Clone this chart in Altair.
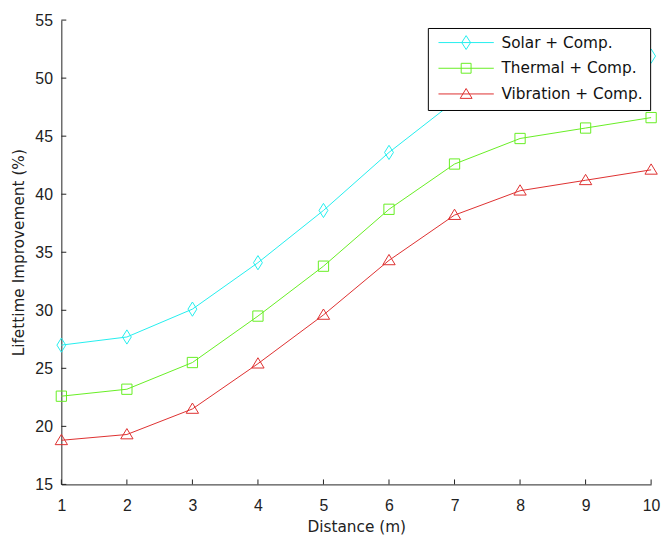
import altair as alt
import pandas as pd

distance = [1, 2, 3, 4, 5, 6, 7, 8, 9, 10]
solar = [27.0, 27.7, 30.1, 34.1, 38.6, 43.6, 48.0, 49.8, 50.9, 51.9]
thermal = [22.6, 23.2, 25.5, 29.5, 33.8, 38.7, 42.6, 44.8, 45.7, 46.6]
vibration = [18.8, 19.3, 21.5, 25.4, 29.6, 34.3, 38.2, 40.3, 41.2, 42.1]

series_names = ["Solar + Comp.", "Thermal + Comp.", "Vibration + Comp."]
series_colors = ["#22EEEE", "#66EE22", "#DD2E2E"]

x_ticks = [1, 2, 3, 4, 5, 6, 7, 8, 9, 10]
y_ticks = [15, 20, 25, 30, 35, 40, 45, 50, 55]

W, H = 597, 470

rows = []
for name, vals in zip(series_names, [solar, thermal, vibration]):
    for d, v in zip(distance, vals):
        rows.append({"distance": d, "value": v, "series": name})
df = pd.DataFrame(rows)

# marker paths (unit coords, scaled by sqrt(size)/2)
marker_paths = {
    "Solar + Comp.": "M0,-0.9L0.56,0L0,0.9L-0.56,0Z",
    "Thermal + Comp.": "M-0.65,-0.65L0.65,-0.65L0.65,0.65L-0.65,0.65Z",
    "Vibration + Comp.": "M0,-0.75L0.78,0.55L-0.78,0.55Z",
}
# legend symbols: size 196 -> 7 px per unit; line spans +-4 units (56 px)
legend_paths = [
    "M-4,0L4,0M0,-1L0.643,0L0,1L-0.643,0Z",
    "M-4,0L4,0M-0.714,-0.714L0.714,-0.714L0.714,0.714L-0.714,0.714Z",
    "M-4,0L4,0M0,-0.786L0.857,0.643L-0.857,0.643Z",
]

color_scale = alt.Scale(domain=series_names, range=series_colors)

x_enc = alt.X(
    "distance:Q",
    scale=alt.Scale(domain=[1, 10], nice=False, zero=False),
    axis=alt.Axis(
        values=x_ticks, format="d", ticks=False, grid=False, domainColor="#222222",
        labelFont="Liberation Sans", labelFontSize=16, labelColor="#222222",
        labelPadding=13, labelFlush=False, title="Distance (m)",
        titleFont="DejaVu Sans", titleFontSize=15.5, titleFontWeight="normal",
        titleColor="#222222", titlePadding=7,
    ),
)
y_enc = alt.Y(
    "value:Q",
    scale=alt.Scale(domain=[15, 55], nice=False, zero=False),
    axis=alt.Axis(
        values=y_ticks, format="d", ticks=False, grid=False, domainColor="#222222",
        labelFont="Liberation Sans", labelFontSize=16, labelColor="#222222",
        labelPadding=9, labelFlush=False, title="Lifettime Improvement (%)",
        titleFont="DejaVu Sans", titleFontSize=15.5, titleFontWeight="normal",
        titleColor="#222222", titlePadding=9,
    ),
)

base = alt.Chart(df)

lines = base.mark_line(strokeWidth=1).encode(
    x=x_enc, y=y_enc,
    color=alt.Color("series:N", scale=color_scale, legend=None),
    detail="series:N",
)

marker_layers = []
for name in series_names:
    marker_layers.append(
        base.transform_filter(alt.datum.series == name)
        .mark_point(shape=marker_paths[name], size=256, filled=False, strokeWidth=1, opacity=1)
        .encode(x="distance:Q", y="value:Q",
                color=alt.Color("series:N", scale=color_scale, legend=None))
    )

leg = alt.Legend(
    orient="none", legendX=371, legendY=8, title=None,
    fillColor="white", strokeColor="black", padding=7, cornerRadius=0,
    symbolSize=196, symbolStrokeWidth=1, symbolOffset=24, symbolOpacity=1,
    labelFont="DejaVu Sans", labelFontSize=15.5, labelColor="#111111",
    labelOffset=28, rowPadding=9, labelLimit=300,
)
legend_layer = base.mark_point(filled=False, opacity=0, size=196).encode(
    x="distance:Q", y="value:Q",
    stroke=alt.Stroke("series:N", scale=alt.Scale(domain=series_names, range=series_colors), legend=leg),
    shape=alt.Shape("series:N", scale=alt.Scale(domain=series_names, range=legend_paths), legend=leg),
)

xt = pd.DataFrame({"t": x_ticks})
yt = pd.DataFrame({"t": y_ticks})
x_tick_marks = alt.Chart(xt).mark_rule(color="#222222", strokeWidth=1).encode(
    x="t:Q", y=alt.value(H), y2=alt.value(H - 5)
)
y_tick_marks = alt.Chart(yt).mark_rule(color="#222222", strokeWidth=1).encode(
    y="t:Q", x=alt.value(0), x2=alt.value(5)
)

chart = alt.layer(
    x_tick_marks, y_tick_marks, lines, *marker_layers, legend_layer
).resolve_scale(color="independent", stroke="independent", shape="independent").properties(
    width=W, height=H,
    autosize=alt.AutoSizeParams(type="none"),
    padding={"left": 54, "top": 9, "right": 10, "bottom": 50},
    background="white",
).configure_view(stroke=None)

chart.save("out.html", embed_options={"renderer": "svg", "actions": False})
